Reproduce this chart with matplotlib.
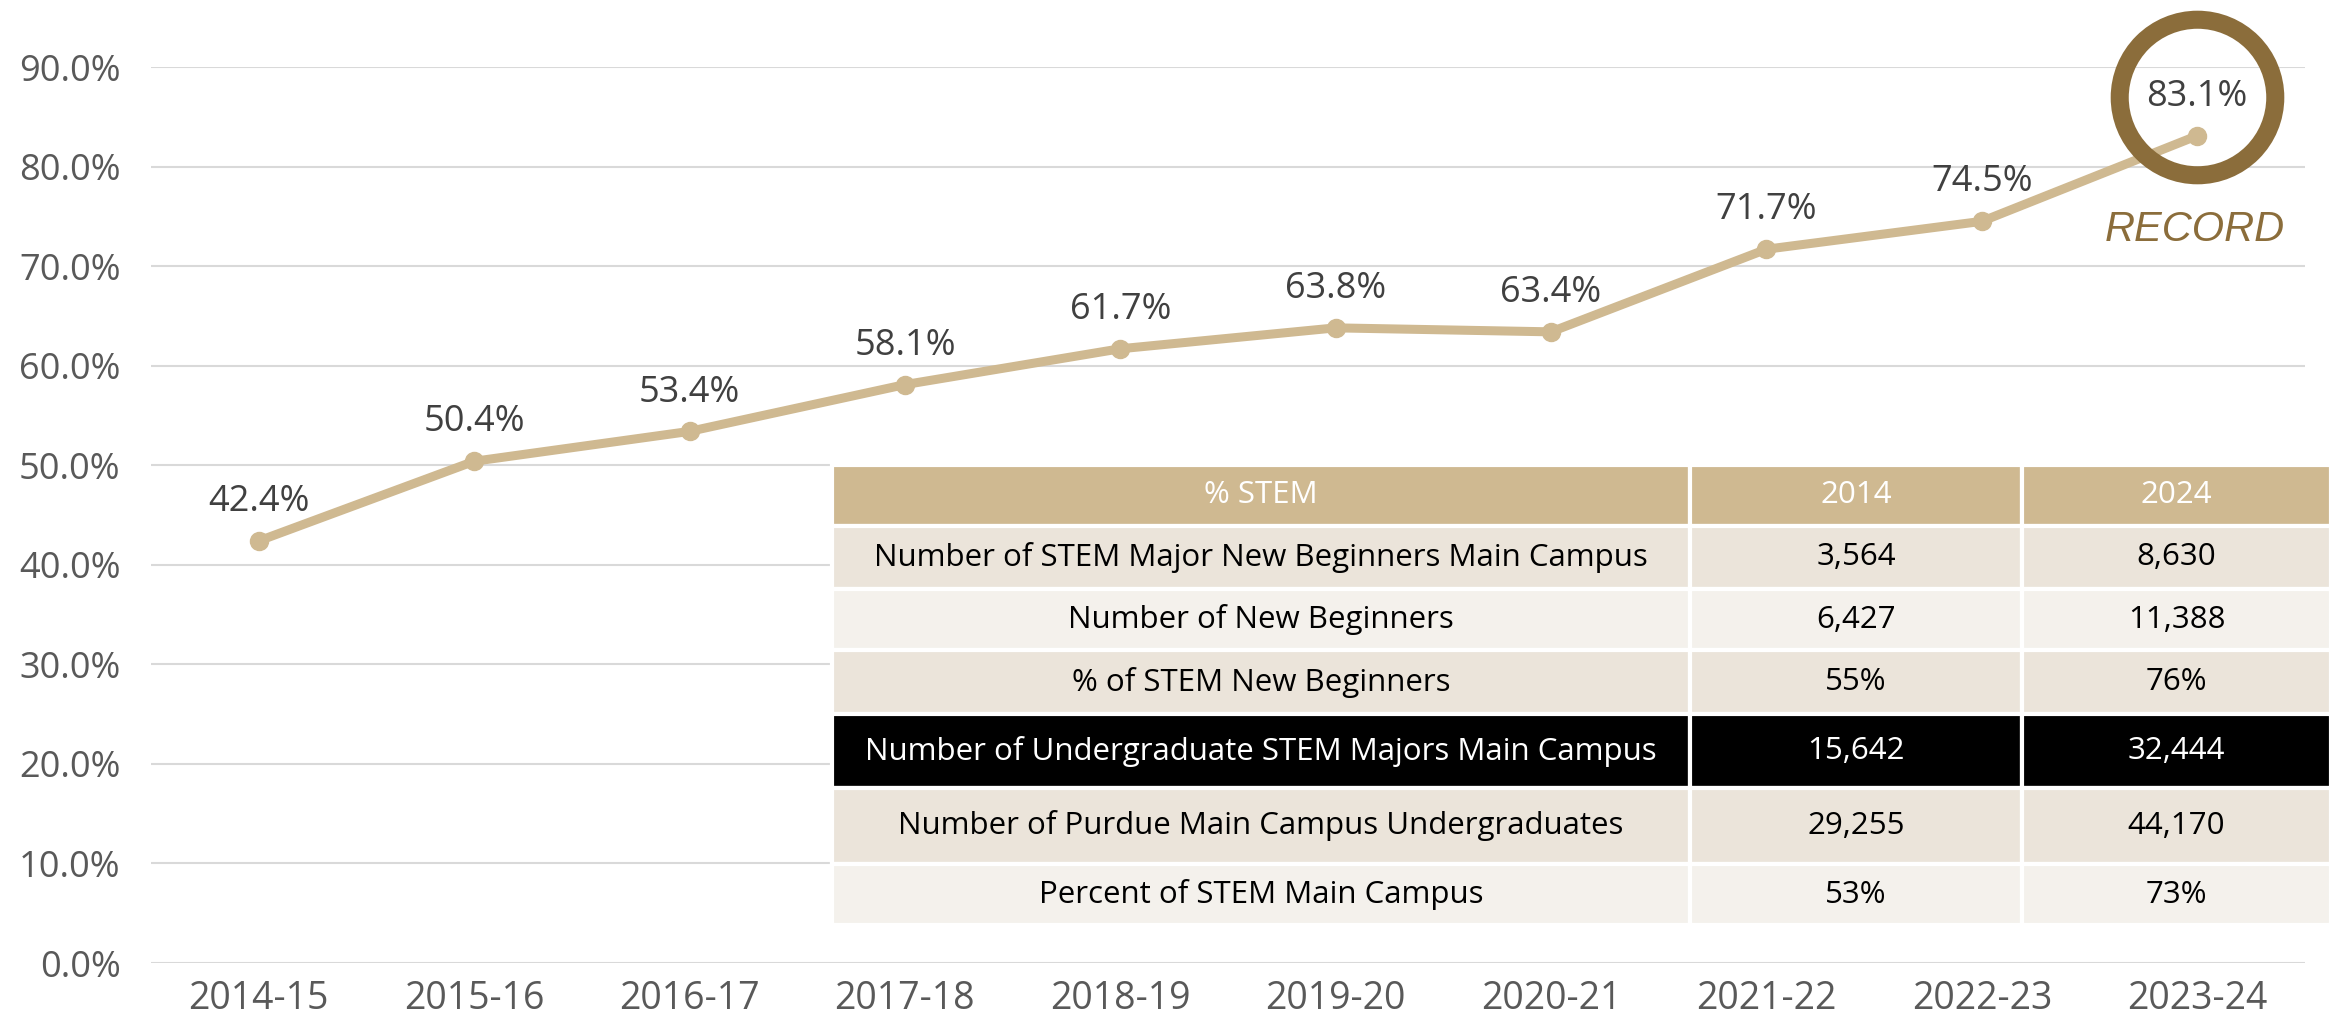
import matplotlib
matplotlib.use('Agg')
import matplotlib.pyplot as plt
from matplotlib.transforms import offset_copy

# chart data
years = ['2014-15', '2015-16', '2016-17', '2017-18', '2018-19',
         '2019-20', '2020-21', '2021-22', '2022-23', '2023-24']
pct_stem = [42.4, 50.4, 53.4, 58.1, 61.7, 63.8, 63.4, 71.7, 74.5, 83.1]
y_ticks = [0, 10, 20, 30, 40, 50, 60, 70, 80, 90]

# table data
table_header = ['% STEM', '2014', '2024']
row_labels = ['Number of STEM Major New Beginners Main Campus',
              'Number of New Beginners',
              '% of STEM New Beginners',
              'Number of Undergraduate STEM Majors Main Campus',
              'Number of Purdue Main Campus Undergraduates',
              'Percent of STEM Main Campus']
vals_2014 = ['3,564', '6,427', '55%', '15,642', '29,255', '53%']
vals_2024 = ['8,630', '11,388', '76%', '32,444', '44,170', '73%']

GOLD = '#CFB991'
BROWN = '#8B6D3B'
GRID = '#D9D9D9'
TICK = '#595959'
LABEL = '#404040'

plt.rcParams['font.family'] = ['Open Sans', 'DejaVu Sans']

fig = plt.figure(figsize=(23.31, 10.28), dpi=100)
ax = fig.add_axes([0.0648, 0.0632, 0.924, 0.8716])

x = list(range(len(years)))
ax.plot(x, pct_stem, color=GOLD, lw=6.5, marker='o', ms=13, zorder=3,
        solid_capstyle='round')

for xi, v in zip(x, pct_stem):
    ax.annotate(f'{v:.1f}%', (xi, v), xytext=(0, 28), textcoords='offset points',
                ha='center', va='center', fontsize=26, color=LABEL, zorder=4)

# ring around the record value + caption
ring = offset_copy(ax.transData, fig=fig, x=0, y=28, units='points')
ax.plot([x[-1]], [pct_stem[-1]], marker='o', ms=112, mfc='none', mec=BROWN,
        mew=13, transform=ring, zorder=5, clip_on=False)
ax.annotate('RECORD', (x[-1], pct_stem[-1]), xytext=(-2, -68),
            textcoords='offset points', ha='center', va='center',
            fontsize=30, style='italic', color=BROWN,
            family=['Liberation Sans', 'DejaVu Sans'])

ax.set_xlim(-0.5, len(years) - 0.5)
ax.set_ylim(0, 90)
ax.set_yticks(y_ticks)
ax.set_yticklabels([f'{t:.1f}%' for t in y_ticks], fontsize=26, color=TICK)
ax.set_xticks(x)
ax.set_xticklabels(years, fontsize=27, color=TICK)
ax.tick_params(length=0, pad=12)
ax.tick_params(axis='y', pad=22)
ax.grid(axis='y', color=GRID, lw=1.5)
ax.set_axisbelow(True)
for s in ax.spines.values():
    s.set_visible(False)

# summary table overlay
tab_ax = fig.add_axes([0.357, 0.1002, 0.643, 0.4475])
tab_ax.axis('off')
cell_text = [table_header] + [[a, b, c] for a, b, c in zip(row_labels, vals_2014, vals_2024)]
tbl = tab_ax.table(cellText=cell_text, bbox=[0, 0, 1, 1], cellLoc='center')
tbl.auto_set_font_size(False)
col_w = [858, 332, 309]
row_h = [58, 60, 59, 61, 70, 73, 58]
row_fc = [GOLD, '#EBE4DA', '#F4F1EC', '#EBE4DA', '#000000', '#EBE4DA', '#F4F1EC']
for (r, c), cell in tbl.get_celld().items():
    cell.set_width(col_w[c])
    cell.set_height(row_h[r])
    cell.set_facecolor(row_fc[r])
    cell.set_edgecolor('white')
    cell.set_linewidth(3)
    txt = cell.get_text()
    txt.set_fontsize(22.5)
    txt.set_color('white' if r in (0, 4) else 'black')

fig.savefig('out.png', dpi=100)
